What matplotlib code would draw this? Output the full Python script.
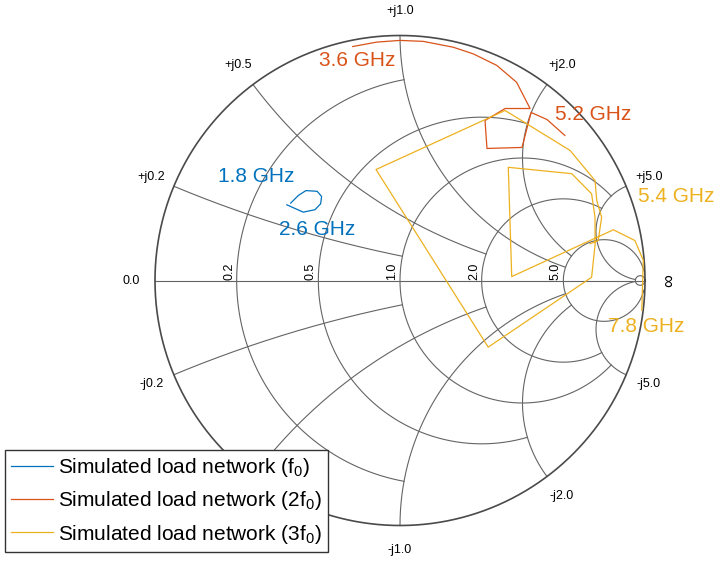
import numpy as np
import matplotlib
matplotlib.use('Agg')
import matplotlib.pyplot as plt
from matplotlib.lines import Line2D

plt.rcParams['font.family'] = ['Liberation Sans', 'DejaVu Sans']
plt.rcParams['mathtext.fontset'] = 'custom'
plt.rcParams['mathtext.rm'] = 'Liberation Sans'
plt.rcParams['mathtext.it'] = 'Liberation Sans'
plt.rcParams['mathtext.default'] = 'rm'

# ---------------- data (reflection coefficient, real / imag) ----------------
grid_values = [0.2, 0.5, 1.0, 2.0, 5.0]
grid_limits = [1.0, 2.0, 5.0, 5.0, 50.0]
inf_circle = 50.0

f0_re = [-0.462, -0.395, -0.347, -0.324, -0.320, -0.338, -0.384, -0.415, -0.446]
f0_im = [0.309, 0.279, 0.289, 0.313, 0.343, 0.364, 0.367, 0.347, 0.316]

f2_re = [-0.193, -0.095, 0.000, 0.095, 0.218, 0.299, 0.395, 0.476, 0.531, 0.429,
         0.347, 0.355, 0.498, 0.535, 0.600, 0.673]
f2_im = [0.955, 0.973, 0.980, 0.976, 0.952, 0.925, 0.878, 0.809, 0.702, 0.702,
         0.653, 0.539, 0.543, 0.686, 0.657, 0.592]

f3_re = [0.776, 0.809, 0.823, 0.803, 0.796, 0.694, 0.429, -0.098, 0.360, 0.782,
         0.796, 0.796, 0.782, 0.701, 0.442, 0.456, 0.871, 0.959, 0.993, 0.987]
f3_im = [0.150, 0.163, 0.258, 0.327, 0.408, 0.531, 0.694, 0.453, -0.272, 0.013,
         0.143, 0.258, 0.354, 0.436, 0.462, 0.016, 0.207, 0.163, 0.082, -0.122]

series_labels = ['Simulated load network (f$_0$)',
                 'Simulated load network (2f$_0$)',
                 'Simulated load network (3f$_0$)']
series_colors = ['#0072BD', '#D95319', '#EDB120']

freq_labels = ['1.8 GHz', '2.6 GHz', '3.6 GHz', '5.2 GHz', '5.4 GHz', '7.8 GHz']
freq_label_series = [0, 0, 1, 1, 2, 2]
freq_label_pos = [(-0.743, 0.424), (-0.494, 0.208), (-0.330, 0.898),
                  (0.633, 0.678), (0.971, 0.343), (0.849, -0.186)]

# ---------------- figure ----------------
W, H = 723, 561
fig = plt.figure(figsize=(W / 100, H / 100), dpi=100)
ax = fig.add_axes([0, 0, 1, 1])
cx, cy, R = 400.0, 280.5, 245.0
ax.set_xlim(-cx / R, (W - cx) / R)
ax.set_ylim(-(H - cy) / R, cy / R)
ax.set_aspect('equal')
ax.axis('off')

grid_col = '#646464'
lw_grid = 0.8


def gam(z):
    return (z - 1) / (z + 1)


def arc(center, rad, a1, a2, n=600, **kw):
    d = (a2 - a1 + np.pi) % (2 * np.pi) - np.pi
    t = np.linspace(a1, a1 + d, n)
    ax.plot(center.real + rad * np.cos(t), center.imag + rad * np.sin(t), **kw)


# resistance circles (clipped)
for r, lim in zip(grid_values, grid_limits):
    c = r / (1 + r)
    rad = 1 / (1 + r)
    g = gam(r + 1j * lim)
    th = np.angle(g - c)
    t = np.linspace(th, 2 * np.pi - th, 800)
    ax.plot(c + rad * np.cos(t), rad * np.sin(t), color=grid_col, lw=lw_grid)
# small circle at infinity
c = inf_circle / (1 + inf_circle)
rad = 1 / (1 + inf_circle)
t = np.linspace(0, 2 * np.pi, 200)
ax.plot(c + rad * np.cos(t), rad * np.sin(t), color=grid_col, lw=lw_grid)

# reactance arcs (clipped)
for x, lim in zip(grid_values, grid_limits):
    for s in (1, -1):
        xx = s * x
        cen = 1 + 1j / xx
        rad = 1 / x
        g0 = gam(1j * xx)
        g1 = gam(lim + 1j * xx)
        arc(cen, rad, np.angle(g0 - cen), np.angle(g1 - cen), color=grid_col, lw=lw_grid)

# real axis and outer circle
ax.plot([-1, 1], [0, 0], color=grid_col, lw=lw_grid)
t = np.linspace(0, 2 * np.pi, 1000)
ax.plot(np.cos(t), np.sin(t), color='#4a4a4a', lw=1.2)

# labels
lab_fs = 9
for r in grid_values:
    ax.annotate('%.1f' % r, xy=(gam(r).real, 0), xytext=(-1.5, 1.0),
                textcoords='offset pixels', rotation=90, ha='right', va='bottom',
                fontsize=lab_fs, color='black')
for x in grid_values:
    for s, sign in ((1, '+'), (-1, '-')):
        g = gam(1j * s * x) * 1.10
        ax.text(g.real, g.imag, '%sj%.1f' % (sign, x), ha='center', va='center',
                fontsize=lab_fs, color='black', zorder=1)
ax.text(-1.062, 0, '0.0', ha='right', va='center', fontsize=lab_fs)
ax.text(1.102, 0, '\u221e', ha='center', va='center', fontsize=lab_fs + 4, rotation=90)

# data traces
for re, im, col in zip([f0_re, f2_re, f3_re], [f0_im, f2_im, f3_im], series_colors):
    ax.plot(re, im, color=col, lw=0.9)

for txt, si, (px, py) in zip(freq_labels, freq_label_series, freq_label_pos):
    ax.text(px, py, txt, color=series_colors[si], fontsize=15, ha='left', va='center')

handles = [Line2D([], [], color=c, lw=0.9) for c in series_colors]
leg = fig.legend(handles, series_labels, loc='lower left',
                 bbox_to_anchor=(5 / W, 9 / H), bbox_transform=fig.transFigure,
                 fontsize=15, frameon=True, fancybox=False, edgecolor='#333333',
                 framealpha=1.0, facecolor='white',
                 handlelength=2.0, handletextpad=0.25, borderpad=0.3,
                 labelspacing=0.5, borderaxespad=0)
leg.get_frame().set_linewidth(1.0)
leg.set_zorder(10)

fig.savefig('out.png', dpi=100)
